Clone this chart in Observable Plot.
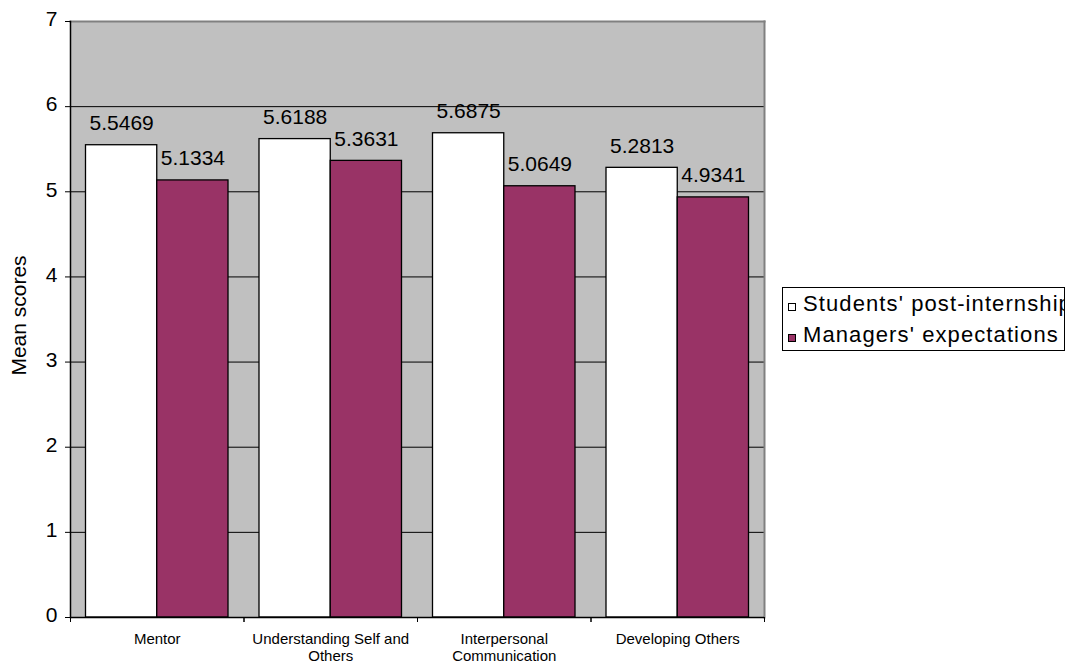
<!DOCTYPE html>
<html>
<head>
<meta charset="utf-8">
<script src="https://cdn.jsdelivr.net/npm/d3@7"></script>
<script src="https://cdn.jsdelivr.net/npm/@observablehq/plot@0.6"></script>
<style>
  body { margin: 0; background: #fff; font-family: "Liberation Sans", Arial, sans-serif; }
  #chart { position: relative; width: 1068px; height: 665px; overflow: hidden; }
  .legend {
    position: absolute; left: 782px; top: 287px; width: 281px; height: 62px;
    border: 1px solid #000; background: #fff; overflow: hidden; white-space: nowrap;
    font-size: 22px; letter-spacing: 1.1px; color: #000;
  }
  .legend .row { height: 31px; line-height: 31px; padding-left: 5px; }
  .legend .sw {
    display: inline-block; width: 6px; height: 6px; border: 1px solid #000;
    margin-right: 7px; vertical-align: middle; position: relative; top: 2px;
  }
</style>
</head>
<body>
<div id="chart"></div>
<script>
// Competency categories and their axis labels
const categories = ["Mentor", "Understanding Self and Others", "Interpersonal Communication", "Developing Others"];
const tickLabels = ["Mentor", "Understanding Self and\nOthers", "Interpersonal\nCommunication", "Developing Others"];

// Series
const seriesNames = ["Students' post-internship", "Managers' expectations"];
const seriesColors = ["#ffffff", "#993366"];
const studentScores = [5.5469, 5.6188, 5.6875, 5.2813];
const managerScores = [5.1334, 5.3631, 5.0649, 4.9341];

// Value axis ticks
const yTicks = [0, 1, 2, 3, 4, 5, 6, 7];

// Layout
const W = 1068, H = 665;
const mL = 70, mR = 304, mT = 21, mB = 48;
const groupW = (W - mL - mR) / categories.length;
const half = groupW / 2;
const gap = 15.5;                  // space between a group's edge and its outer bar
const shift = (half - gap) / 2;    // offset from group centre to each bar's centre

const students = categories.map((c, i) => ({category: c, series: seriesNames[0], value: studentScores[i]}));
const managers = categories.map((c, i) => ({category: c, series: seriesNames[1], value: managerScores[i]}));

const fmt = d => d.value.toFixed(4);

const plot = Plot.plot({
  width: W,
  height: H,
  marginLeft: mL,
  marginRight: mR,
  marginTop: mT,
  marginBottom: mB,
  style: {fontFamily: "'Liberation Sans', Arial, sans-serif", fontSize: "15px", color: "#000", background: "transparent"},
  x: {type: "band", domain: categories, padding: 0, round: false, axis: null},
  y: {domain: [0, 7], axis: null},
  marks: [
    // plot area background
    Plot.frame({fill: "#c0c0c0"}),
    // gridlines
    Plot.ruleY(yTicks.filter(t => t > 0 && t < 7), {stroke: "#000", strokeWidth: 1}),
    // bars
    Plot.barY(students, {x: "category", y: "value", fill: seriesColors[0], stroke: "#000", strokeWidth: 1.3, insetLeft: gap, insetRight: half}),
    Plot.barY(managers, {x: "category", y: "value", fill: seriesColors[1], stroke: "#000", strokeWidth: 1.3, insetLeft: half, insetRight: gap}),
    // value labels
    Plot.text(students, {x: "category", y: "value", text: fmt, dx: -shift, dy: -22, fontSize: 21, fill: "#000"}),
    Plot.text(managers, {x: "category", y: "value", text: fmt, dx: shift, dy: -22, fontSize: 21, fill: "#000"}),
    // plot area border
    Plot.frame({anchor: "top", stroke: "#808080", strokeWidth: 2}),
    Plot.frame({anchor: "right", stroke: "#808080", strokeWidth: 2}),
    Plot.frame({anchor: "left", stroke: "#000", strokeWidth: 1.5}),
    Plot.ruleY([0], {stroke: "#000", strokeWidth: 1.5}),
    // y axis
    Plot.axisY({ticks: yTicks, tickSize: 5, text: null, label: null}),
    Plot.axisY({ticks: yTicks, tickSize: 0, tickPadding: 13, dy: -2, fontSize: 21, label: null, tickFormat: d => String(d)}),
    // x axis: labels at group centres, ticks at group boundaries
    Plot.axisX({tickSize: 0, tickPadding: 15, fontSize: 15, lineHeight: 1.1, label: null,
                tickFormat: c => tickLabels[categories.indexOf(c)]}),
    Plot.axisX({tickSize: 5, text: null, label: null, dx: -half}),
    Plot.axisX({tickSize: 5, text: null, label: null, dx: half}),
    // y axis title
    Plot.text(["Mean scores"], {frameAnchor: "left", text: d => d, rotate: -90, textAnchor: "middle",
                                dx: -51, dy: -4, fontSize: 21, fill: "#000"})
  ]
});

const chart = document.getElementById("chart");
chart.appendChild(plot);

// legend
const legend = document.createElement("div");
legend.className = "legend";
seriesNames.forEach((name, i) => {
  const row = document.createElement("div");
  row.className = "row";
  const sw = document.createElement("span");
  sw.className = "sw";
  sw.style.background = seriesColors[i];
  row.appendChild(sw);
  row.appendChild(document.createTextNode(name));
  legend.appendChild(row);
});
chart.appendChild(legend);
</script>
</body>
</html>
